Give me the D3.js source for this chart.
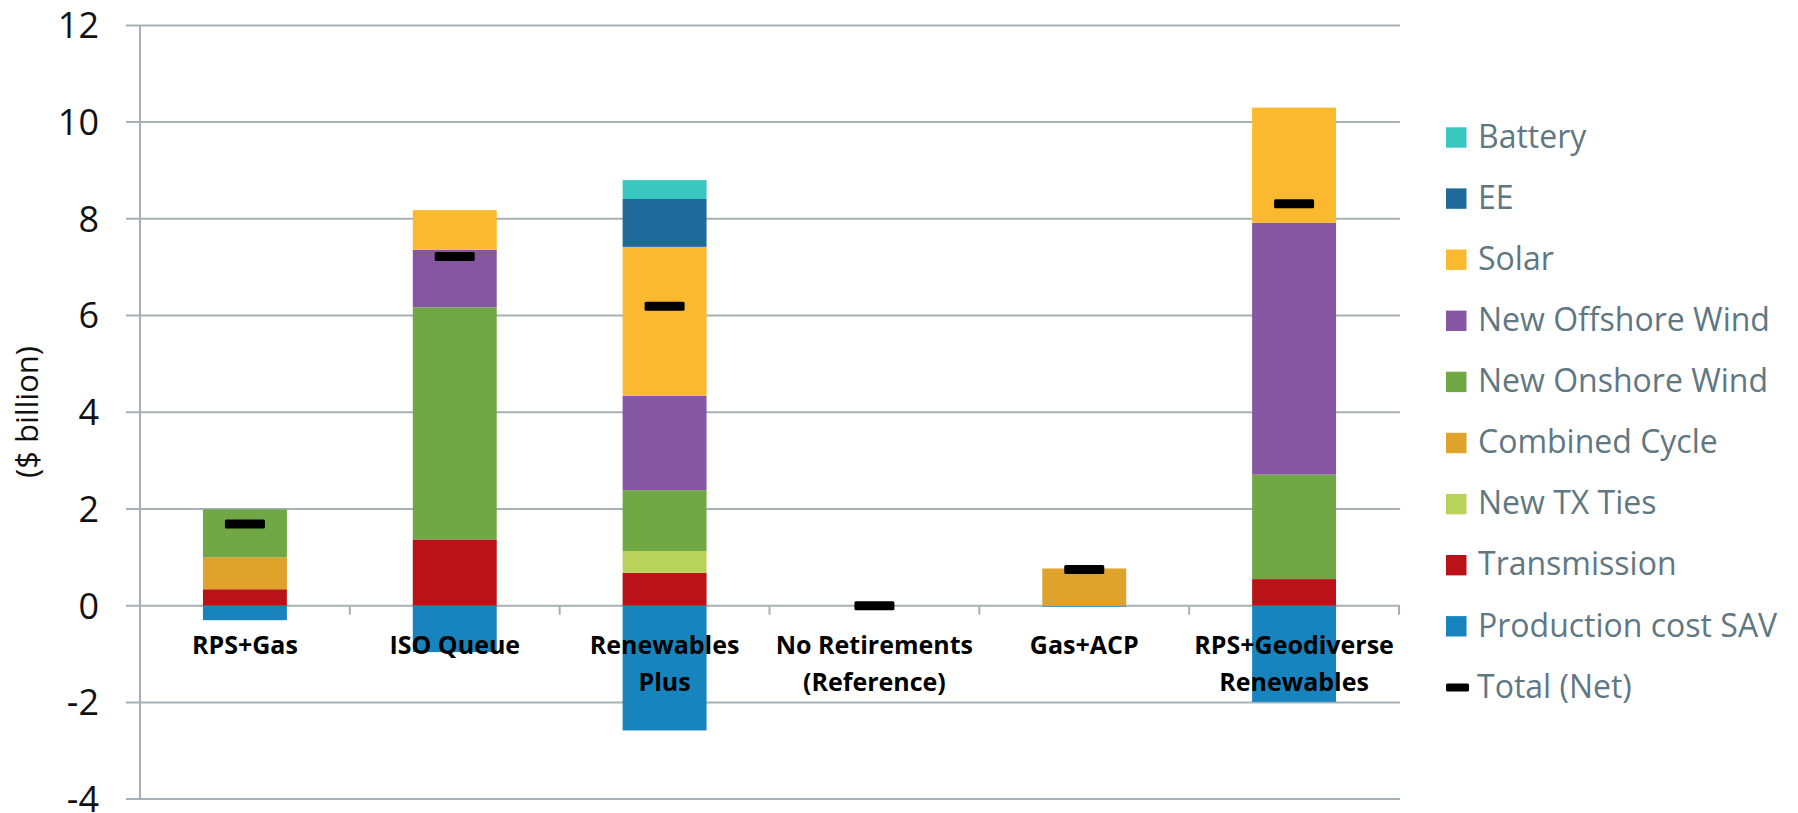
<!DOCTYPE html>
<html>
<head>
<meta charset="utf-8">
<script src="https://cdn.jsdelivr.net/npm/d3@7"></script>
<style>
  body { margin: 0; background: #fff; }
  svg text { font-family: "Open Sans", sans-serif; }
</style>
</head>
<body>
<div class="container"></div>
<script>
const WIDTH = 1798;
const HEIGHT = 813;

// scenarios along the x axis (each label may wrap to two lines)
var categories = ["RPS+Gas", "ISO Queue", "Renewables Plus", "No Retirements (Reference)", "Gas+ACP", "RPS+Geodiverse Renewables"];
var categoryLines = [["RPS+Gas"], ["ISO Queue"], ["Renewables", "Plus"], ["No Retirements", "(Reference)"], ["Gas+ACP"], ["RPS+Geodiverse", "Renewables"]];

// stack order, bottom to top
var seriesNames = ["Production cost SAV", "Transmission", "New TX Ties", "Combined Cycle", "New Onshore Wind", "New Offshore Wind", "Solar", "EE", "Battery"];

// $ billion, one value per scenario
var productionCostSav = [-0.30, -0.96, -2.58, 0, -0.02, -1.99];
var transmission      = [0.34, 1.37, 0.68, 0, 0, 0.55];
var newTxTies         = [0, 0, 0.45, 0, 0, 0];
var combinedCycle     = [0.66, 0, 0, 0, 0.77, 0];
var newOnshoreWind    = [0.99, 4.80, 1.26, 0, 0, 2.16];
var newOffshoreWind   = [0, 1.19, 1.95, 0, 0, 5.21];
var solar             = [0, 0.82, 3.08, 0, 0, 2.38];
var ee                = [0, 0, 0.99, 0, 0, 0];
var battery           = [0, 0, 0.39, 0, 0, 0];
var totalNet          = [1.69, 7.22, 6.19, 0, 0.75, 8.31];

var yTicks = [-4, -2, 0, 2, 4, 6, 8, 10, 12];

var colors = {
    "Battery": "#3ac7c0",
    "EE": "#1f6a9b",
    "Solar": "#fbb92f",
    "New Offshore Wind": "#8556a1",
    "New Onshore Wind": "#6fa844",
    "Combined Cycle": "#dfa22b",
    "New TX Ties": "#b9d25a",
    "Transmission": "#b91319",
    "Production cost SAV": "#1784be"
};
var legendOrder = ["Battery", "EE", "Solar", "New Offshore Wind", "New Onshore Wind", "Combined Cycle", "New TX Ties", "Transmission", "Production cost SAV"];

var seriesValues = [productionCostSav, transmission, newTxTies, combinedCycle, newOnshoreWind, newOffshoreWind, solar, ee, battery];

// rows for d3.stack
var rows = categories.map(function(c, i) {
    var r = { category: c };
    seriesNames.forEach(function(s, j) { r[s] = seriesValues[j][i]; });
    return r;
});

var translate = function(x, y) {
    return `translate(${x},${y})`;
};

var PLOT_LEFT = 140, PLOT_RIGHT = 1399;
var GRID_COLOR = "#a7b1b5";

var svg = d3.select('.container').append('svg')
    .attr('width', WIDTH)
    .attr('height', HEIGHT);

var xScale = d3.scaleBand()
    .domain(categories)
    .range([PLOT_LEFT, PLOT_RIGHT])
    .paddingInner(0.6)
    .paddingOuter(0.3);

var yScale = d3.scaleLinear()
    .domain([-4, 12])
    .range([799.1, 25.4]);

// gridlines (they run past the axis a little, like tick marks)
svg.append('g').selectAll('line').data(yTicks).enter()
    .append('line')
    .attr('x1', 126)
    .attr('x2', PLOT_RIGHT + 1)
    .attr('y1', d => yScale(d))
    .attr('y2', d => yScale(d))
    .attr('stroke', GRID_COLOR)
    .attr('stroke-width', 2);

// y axis line
svg.append('line')
    .attr('x1', PLOT_LEFT).attr('x2', PLOT_LEFT)
    .attr('y1', yScale(12)).attr('y2', yScale(-4))
    .attr('stroke', GRID_COLOR)
    .attr('stroke-width', 2);

// y tick labels
svg.append('g').selectAll('text').data(yTicks).enter()
    .append('text')
    .attr('x', 99)
    .attr('y', d => yScale(d))
    .attr('dy', '0.36em')
    .attr('text-anchor', 'end')
    .attr('font-size', 36)
    .attr('fill', '#111')
    .text(d => d);

// y axis title
svg.append('text')
    .attr('transform', translate(38, 412) + ' rotate(-90)')
    .attr('text-anchor', 'middle')
    .attr('font-size', 31)
    .attr('fill', '#111')
    .text('($ billion)');

// category boundary ticks on the zero line
var step = xScale.step();
var boundaries = d3.range(1, categories.length + 1).map(i => PLOT_LEFT + i * step);
svg.append('g').selectAll('line').data(boundaries).enter()
    .append('line')
    .attr('x1', d => d).attr('x2', d => d)
    .attr('y1', yScale(0)).attr('y2', yScale(0) + 9)
    .attr('stroke', GRID_COLOR)
    .attr('stroke-width', 2);

// stacked bars
var stack = d3.stack().keys(seriesNames).offset(d3.stackOffsetDiverging);
var stacked = stack(rows);

var layers = svg.append('g').selectAll('g').data(stacked).enter()
    .append('g')
    .attr('fill', d => colors[d.key]);

layers.selectAll('rect').data(d => d.filter(p => p[1] - p[0] !== 0)).enter()
    .append('rect')
    .attr('x', d => xScale(d.data.category))
    .attr('width', xScale.bandwidth())
    .attr('y', d => yScale(Math.max(d[0], d[1])))
    .attr('height', d => Math.abs(yScale(d[0]) - yScale(d[1])));

// total (net) markers
svg.append('g').selectAll('rect').data(categories).enter()
    .append('rect')
    .attr('x', d => xScale(d) + xScale.bandwidth() / 2 - 20)
    .attr('y', (d, i) => yScale(totalNet[i]) - 4.5)
    .attr('width', 40)
    .attr('height', 9)
    .attr('rx', 1.5)
    .attr('fill', '#000');

// category labels
var labels = svg.append('g').selectAll('text').data(categories).enter()
    .append('text')
    .attr('text-anchor', 'middle')
    .attr('font-size', 25)
    .attr('font-weight', 'bold')
    .attr('fill', '#000');
labels.selectAll('tspan').data((d, i) => categoryLines[i].map(t => ({ t: t, c: d }))).enter()
    .append('tspan')
    .attr('x', d => xScale(d.c) + xScale.bandwidth() / 2)
    .attr('y', (d, j) => 654 + j * 36.5)
    .text(d => d.t);

// legend
var legend = svg.append('g').attr('transform', translate(1446, 137.5));
var rowH = 61.1;
legendOrder.forEach(function(name, i) {
    var g = legend.append('g').attr('transform', translate(0, i * rowH));
    g.append('rect')
        .attr('x', 0).attr('y', -10.2)
        .attr('width', 20.5).attr('height', 20.4)
        .attr('fill', colors[name]);
    g.append('text')
        .attr('x', 32).attr('y', 10.2)
        .attr('font-size', 32)
        .attr('fill', '#5f7782')
        .text(name);
});
var totalRow = legend.append('g').attr('transform', translate(0, legendOrder.length * rowH));
totalRow.append('rect')
    .attr('x', 0).attr('y', -4)
    .attr('width', 23).attr('height', 8)
    .attr('rx', 1.5)
    .attr('fill', '#000');
totalRow.append('text')
    .attr('x', 31).attr('y', 10.2)
    .attr('font-size', 32)
    .attr('fill', '#5f7782')
    .text('Total (Net)');
</script>
</body>
</html>
